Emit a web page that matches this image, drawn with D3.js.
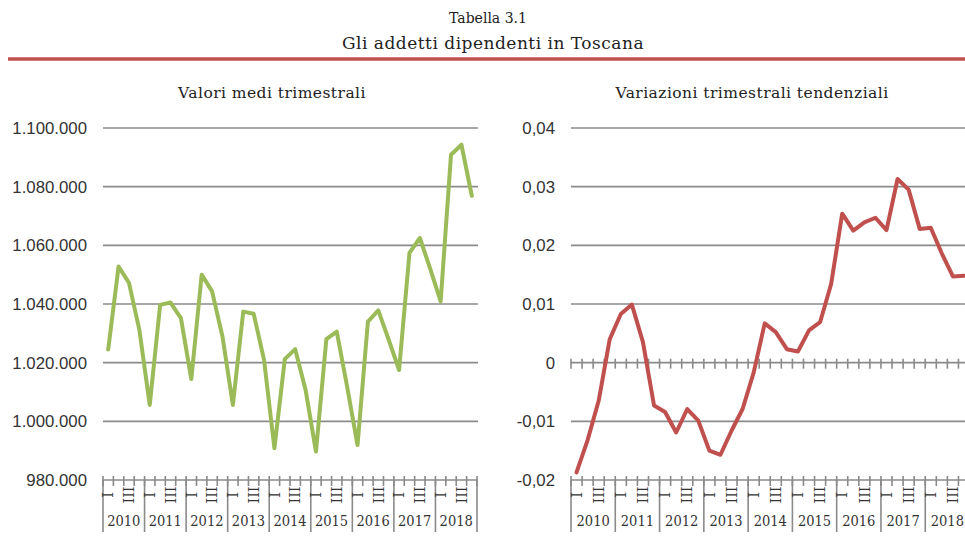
<!DOCTYPE html>
<html>
<head>
<meta charset="utf-8">
<script src="https://cdn.jsdelivr.net/npm/d3@7"></script>
<style>
  body { margin: 0; background: #fff; }
  svg { display: block; }
</style>
</head>
<body>
<script>
/* Data: quarterly values 2010-2018 */
var years = ["2010", "2011", "2012", "2013", "2014", "2015", "2016", "2017", "2018"];
var quarters = ["I", "II", "III", "IV"];
var quarterLabels = ["I", "", "III", ""];

/* Valori medi trimestrali (addetti dipendenti) */
var addetti = [
  1024500, 1052800, 1047200, 1031200,
  1005600, 1039700, 1040500, 1035200,
  1014400, 1050000, 1044300, 1028900,
  1005600, 1037400, 1036700, 1021000,
  990800, 1021200, 1024600, 1010700,
  989700, 1028000, 1030600, 1011800,
  991900, 1034000, 1037800, 1027800,
  1017500, 1057400, 1062500, 1052000,
  1040900, 1090900, 1094300, 1076900
];

/* Variazioni trimestrali tendenziali */
var variazioni = [
  -0.0187, -0.0132, -0.0065, 0.0040,
  0.0083, 0.0099, 0.0035, -0.0073,
  -0.0084, -0.0119, -0.0079, -0.0099,
  -0.0150, -0.0157, -0.0116, -0.0079,
  -0.0017, 0.0067, 0.0052, 0.0023,
  0.0019, 0.0055, 0.0069, 0.0134,
  0.0254, 0.0225, 0.0239, 0.0247,
  0.0226, 0.0313, 0.0295, 0.0228,
  0.0230, 0.0186, 0.0147, 0.0148
];

var leftTicks = [980000, 1000000, 1020000, 1040000, 1060000, 1080000, 1100000];
var rightTicks = [-0.02, -0.01, 0, 0.01, 0.02, 0.03, 0.04];

var W = 965, H = 559;
var gridColor = "#8a8a8a";
var serif = "'DejaVu Serif', serif";
var serifC = "'DejaVu Serif Condensed', 'DejaVu Serif', serif";
var sans = "'Liberation Sans', Arial, sans-serif";

var it = d3.formatLocale({decimal: ",", thousands: ".", grouping: [3], currency: ["€", ""], minus: "-"});

/* one category per quarter */
var cats = [];
years.forEach(function(y) {
  quarters.forEach(function(q) { cats.push(y + "-" + q); });
});

var svg = d3.select("body").append("svg")
    .attr("width", W)
    .attr("height", H)
    .style("overflow", "hidden");

/* Titles */
svg.append("text")
    .attr("x", 488).attr("y", 23)
    .attr("text-anchor", "middle")
    .style("font-family", serif).style("font-size", "14px").style("fill", "#222")
    .text("Tabella 3.1");
svg.append("text")
    .attr("x", 493).attr("y", 49)
    .attr("text-anchor", "middle")
    .style("font-family", serif).style("font-size", "17px").style("letter-spacing", "0.5px")
    .style("fill", "#222")
    .text("Gli addetti dipendenti in Toscana");
svg.append("line")
    .attr("x1", 8).attr("x2", W)
    .attr("y1", 59).attr("y2", 59)
    .attr("stroke", "#c0504d")
    .attr("stroke-width", 3.5);

function drawPanel(opt) {
  var x = d3.scaleBand().domain(cats).range(opt.xRange).padding(0);
  var y = d3.scaleLinear().domain(opt.yDomain).range([480, 128]);
  var g = svg.append("g");

  g.append("text")
      .attr("x", opt.titleX).attr("y", 98)
      .attr("text-anchor", "middle")
      .style("font-family", serif).style("font-size", "15.5px").style("letter-spacing", "0.45px")
      .style("fill", "#222")
      .text(opt.title);

  // horizontal gridlines
  g.selectAll(".grid")
      .data(opt.ticks)
      .enter().append("line")
      .attr("x1", opt.xRange[0]).attr("x2", opt.gridEnd)
      .attr("y1", function(d) { return y(d); })
      .attr("y2", function(d) { return y(d); })
      .attr("stroke", gridColor)
      .attr("stroke-width", 1.6);

  // y labels
  g.selectAll(".ylab")
      .data(opt.ticks)
      .enter().append("text")
      .attr("x", opt.labelX)
      .attr("y", function(d) { return y(d); })
      .attr("dy", "0.35em")
      .attr("text-anchor", "end")
      .style("font-family", sans).style("font-size", "16.8px").style("fill", "#333")
      .text(opt.fmt);

  // quarter tick marks on every axis line
  var bounds = cats.map(function(c) { return x(c); }).concat([opt.xRange[1]]);
  opt.tickLines.forEach(function(v) {
    g.selectAll(null)
        .data(bounds)
        .enter().append("line")
        .attr("x1", function(d) { return d; })
        .attr("x2", function(d) { return d; })
        .attr("y1", y(v) - 4)
        .attr("y2", y(v) + 6)
        .attr("stroke", gridColor)
        .attr("stroke-width", 1.6);
  });

  var base = y(opt.yDomain[0]);

  // year separators
  var yearBounds = years.map(function(yr) { return x(yr + "-I"); }).concat([opt.xRange[1]]);
  g.selectAll(null)
      .data(yearBounds)
      .enter().append("line")
      .attr("x1", function(d) { return d; })
      .attr("x2", function(d) { return d; })
      .attr("y1", base)
      .attr("y2", 532)
      .attr("stroke", gridColor)
      .attr("stroke-width", 1.6);

  // quarter labels (I, III) rotated
  g.selectAll(null)
      .data(cats)
      .enter().append("text")
      .attr("transform", function(d) {
        return "translate(" + (x(d) + x.bandwidth() / 2) + "," + (base + 15) + ") rotate(-90)";
      })
      .attr("dy", "0.36em")
      .attr("text-anchor", "middle")
      .style("font-family", serif).style("font-size", "14.5px").style("fill", "#333")
      .text(function(d, i) { return quarterLabels[i % 4]; });

  // year labels
  g.selectAll(null)
      .data(years)
      .enter().append("text")
      .attr("x", function(d) { return x(d + "-I") + x.bandwidth() * 2; })
      .attr("y", 526)
      .attr("text-anchor", "middle")
      .style("font-family", serifC).style("font-size", "14.5px").style("fill", "#333")
      .text(function(d) { return d; });

  var line = d3.line()
      .x(function(d, i) { return x(cats[i]) + x.bandwidth() / 2; })
      .y(function(d) { return y(d); });

  g.append("path")
      .datum(opt.values)
      .attr("fill", "none")
      .attr("stroke", opt.color)
      .attr("stroke-width", 4)
      .attr("stroke-linejoin", "round")
      .attr("stroke-linecap", "round")
      .attr("d", line);
}

drawPanel({
  title: "Valori medi trimestrali",
  titleX: 272,
  xRange: [103, 477],
  gridEnd: 478,
  yDomain: [980000, 1100000],
  ticks: leftTicks,
  tickLines: [980000],
  labelX: 87,
  fmt: it.format(",d"),
  values: addetti,
  color: "#9bbb59"
});

drawPanel({
  title: "Variazioni trimestrali tendenziali",
  titleX: 752,
  xRange: [571, 571 + 36 * 11.07],
  gridEnd: 980,
  yDomain: [-0.02, 0.04],
  ticks: rightTicks,
  tickLines: [-0.02, 0],
  labelX: 555,
  fmt: function(d) { return d === 0 ? "0" : it.format(".2f")(d); },
  values: variazioni,
  color: "#c0504d"
});
</script>
</body>
</html>
